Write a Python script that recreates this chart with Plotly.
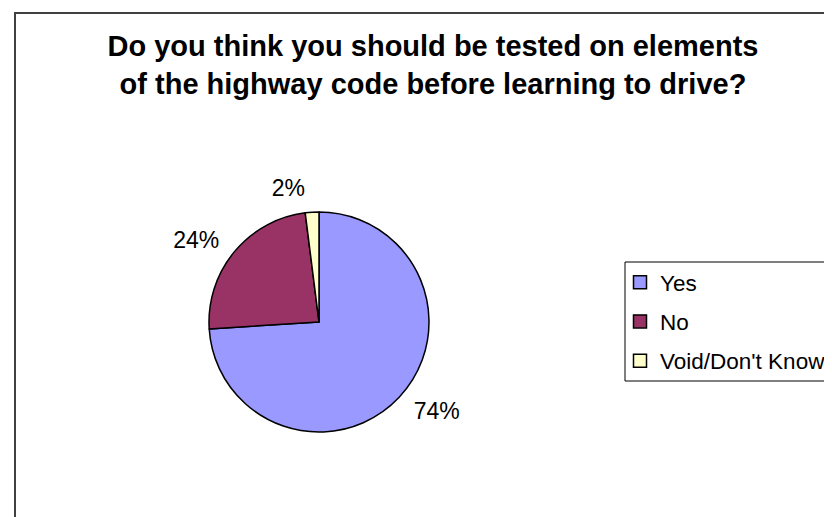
import plotly.graph_objects as go

labels = ["Yes", "No", "Void/Don't Know"]
values = [74, 24, 2]
colors = ["#9999FF", "#993366", "#FFFFCC"]
title_lines = ["Do you think you should be tested on elements",
               "of the highway code before learning to drive?"]

W, H = 832, 517
FONT = "Liberation Sans, Arial"

# pie geometry (pixels): centre and radius
CX, CY, R = 311, 314, 110
LABEL_R = R + 11  # radius of the invisible pie that carries the outside labels


def dom(r):
    return dict(x=[(CX - r) / W, (CX + r) / W], y=[1 - (CY + r) / H, 1 - (CY - r) / H])


fig = go.Figure()
# visible pie slices
fig.add_trace(go.Pie(
    labels=labels,
    values=values,
    sort=False,
    direction="clockwise",
    rotation=0,
    marker=dict(colors=colors, line=dict(color="black", width=1.5)),
    textinfo="none",
    domain=dom(R),
    showlegend=False,
))
# same data, transparent, only to place the percentage labels a bit further out
fig.add_trace(go.Pie(
    labels=labels,
    values=values,
    sort=False,
    direction="clockwise",
    rotation=0,
    marker=dict(colors=["rgba(0,0,0,0)"] * len(labels), line=dict(width=0)),
    textinfo="percent",
    texttemplate="%{percent:.0%}",
    textposition="outside",
    outsidetextfont=dict(family=FONT, size=23, color="black"),
    domain=dom(LABEL_R),
    showlegend=False,
    hoverinfo="skip",
))

# legend entries (one per category)
for lab, col in zip(labels, colors):
    fig.add_trace(go.Scatter(
        x=[None], y=[None], mode="markers", name=lab, legendgroup=lab,
        marker=dict(symbol="square", size=13, color=col,
                    line=dict(color="black", width=1.5)),
        showlegend=True, hoverinfo="skip",
    ))

fig.update_layout(
    width=W, height=H,
    margin=dict(l=0, r=0, t=0, b=0),
    paper_bgcolor="white",
    plot_bgcolor="white",
    xaxis=dict(visible=False),
    yaxis=dict(visible=False),
    title=dict(
        text="<br>".join(title_lines),
        x=425 / W, xanchor="center",
        y=1 - 48 / H, yanchor="top",
        font=dict(family=FONT, size=29, color="black", weight="bold"),
    ),
    legend=dict(
        x=612 / W, xanchor="left",
        y=1 - 253 / H, yanchor="top",
        borderwidth=0,
        bgcolor="rgba(0,0,0,0)",
        tracegroupgap=7,
        itemsizing="trace",
        font=dict(family=FONT, size=22.5, color="black"),
    ),
    shapes=[
        dict(type="rect", xref="paper", yref="paper",
             x0=7 / W, x1=1.02, y0=-0.02, y1=1 - 5 / H,
             line=dict(color="#404040", width=2),
             fillcolor="rgba(0,0,0,0)"),
        dict(type="rect", xref="paper", yref="paper",
             x0=617 / W, x1=1.02, y0=1 - 373 / H, y1=1 - 254 / H,
             line=dict(color="black", width=1),
             fillcolor="white", layer="below"),
    ],
)

fig.write_html("out.html")
